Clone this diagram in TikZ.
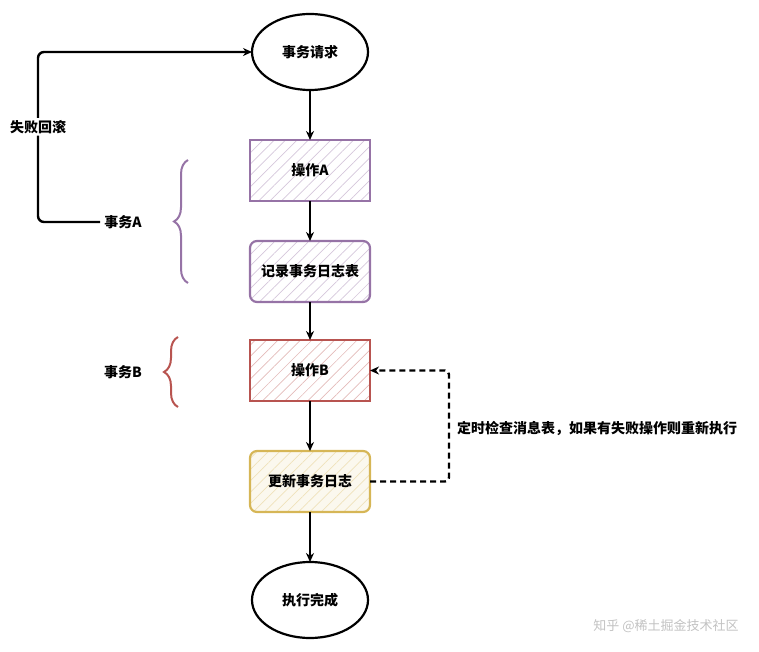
\documentclass[tikz,border=0pt]{standalone}
\usepackage{fontspec}
\setmainfont{Noto Sans CJK SC}
\usetikzlibrary{arrows.meta, positioning, shapes.geometric, patterns.meta, decorations.pathreplacing}
\definecolor{cpurple}{HTML}{9673A6}
\definecolor{cred}{HTML}{B85450}
\definecolor{cyellow}{HTML}{D6B656}
\definecolor{cgrey}{HTML}{9A9A9A}
\tikzset{
  every picture/.style={font=\bfseries\fontsize{14}{16}\selectfont, line width=2.2pt},
  oval/.style={ellipse, draw=black, line width=2.2pt, outer sep=0pt, minimum width=116pt, minimum height=76pt},
  box/.style={draw=#1, line width=2.2pt, outer sep=0pt, minimum width=120pt, minimum height=61pt,
    pattern={Lines[angle=45, distance=8pt, line width=0.7pt]}, pattern color=#1!40},
  box/.default=cpurple,
  arrow/.style={-{Stealth[length=9pt, width=8pt]}, draw=black, line width=2.4pt},
  brace/.style={draw=#1, line width=2pt, decorate, decoration={brace, amplitude=14pt}},
  label/.style={font=\bfseries\fontsize{14}{16}\selectfont, inner sep=3pt},
}

\begin{document}
\begin{tikzpicture}[x=1pt, y=-1pt]
  \useasboundingbox (0,0) rectangle (759,652);
  \node[oval] (req) at (310,52) {事务请求};
  \node[box=cpurple, below=50pt of req] (opa) {操作\textit{A}};
  \node[box=cpurple, rounded corners=7pt, below=40pt of opa] (log) {记录事务日志表};
  \node[box=cred, below=38pt of log] (opb) {操作B};
  \node[box=cyellow, rounded corners=7pt, preaction={fill=cyellow!10}, below=50pt of opb] (upd) {更新事务日志};
  \node[oval, below=50pt of upd] (done) {执行完成};
  \foreach \a/\b in {req/opa, opa/log, log/opb, opb/upd, upd/done} \draw[arrow] (\a) -- (\b);
  % transaction braces
  \node[label] (txa) at (123,222) {事务\textit{A}};
  \node[label] (txb) at (123,372) {事务B};
  \draw[brace=cpurple] (188,283) -- (188,160);
  \draw[brace=cred] (178,407) -- (178,337);
  % rollback loop
  \coordinate (lb) at (38,222);
  \draw[arrow, rounded corners=6pt] (txa.west) -- (lb) |- (req.west)
    node[pos=0.28, fill=white, inner sep=2pt] (rollback) {失败回滚};
  % retry loop
  \draw[arrow, dashed, dash pattern=on 6pt off 4pt, rounded corners=4pt] (upd.east) -- ++(79pt,0) |- (opb.east);
  \node[label, anchor=west] (check) at (453,428) {定时检查消息表，如果有失败操作则重新执行};
  \node[font=\fontsize{13}{15}\selectfont, text=cgrey!60] (mark) at (666,626) {知乎 @稀土掘金技术社区};
\end{tikzpicture}
\end{document}
